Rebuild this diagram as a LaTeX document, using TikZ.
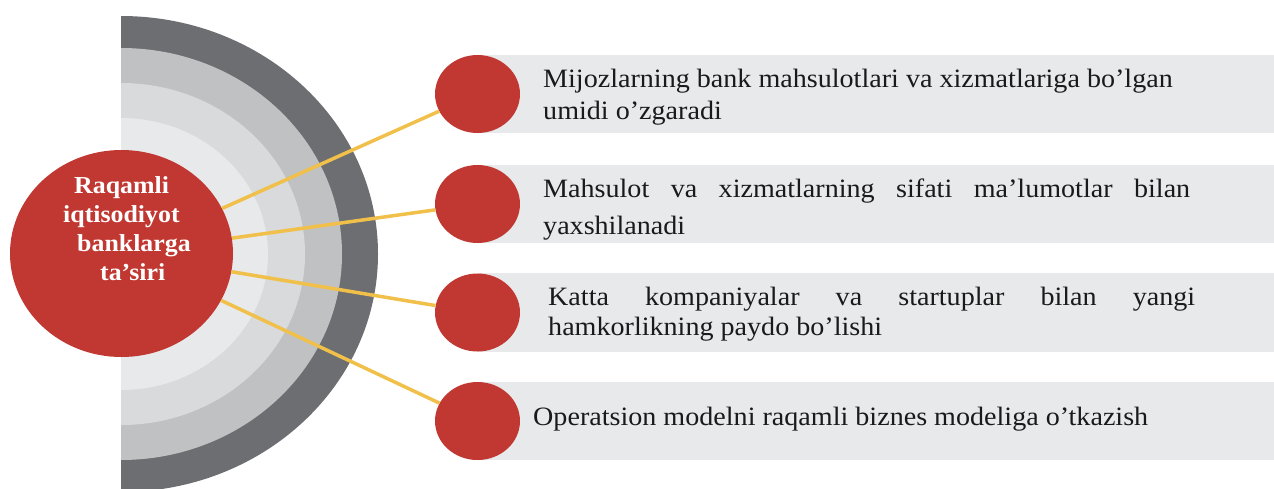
\documentclass[tikz,border=0pt]{standalone}
\usepackage{fontspec}
\setmainfont{Liberation Serif}[FakeStretch=1.06]
\usetikzlibrary{shapes.geometric}

\definecolor{ringA}{HTML}{6D6E71}
\definecolor{ringB}{HTML}{C0C1C3}
\definecolor{ringC}{HTML}{D9DADB}
\definecolor{ringD}{HTML}{E8E9EA}
\definecolor{barfill}{HTML}{E8E9EB}
\definecolor{dotred}{HTML}{C13832}
\definecolor{linkyellow}{HTML}{F0C04A}
\definecolor{ink}{HTML}{1A1A1A}

\begin{document}
\begin{tikzpicture}[x=1pt,y=-1pt,
  hub/.style={ellipse, fill=dotred, inner sep=0pt,
    minimum width=223pt, minimum height=207pt},
  dot/.style={ellipse, fill=dotred, inner sep=0pt,
    minimum width=85pt, minimum height=78pt},
  hubtext/.style={anchor=base west, inner sep=0pt, text=white,
    font=\fontsize{24.4}{28}\selectfont\bfseries},
  itemtext/.style={anchor=base west, inner sep=0pt, text=ink,
    font=\fontsize{26.5}{31}\selectfont},
  link/.style={draw=linkyellow, line width=3.5pt},
  bar/.style={fill=barfill}]

\useasboundingbox (0,0) rectangle (1274,488);

% concentric half rings
\begin{scope}
  \clip (121,0) rectangle (1274,488);
  \fill[ringA] (121,254) ellipse [x radius=257, y radius=238];
  \fill[ringB] (121,254) ellipse [x radius=221, y radius=206];
  \fill[ringC] (121,254) ellipse [x radius=184, y radius=171];
  \fill[ringD] (121,254) ellipse [x radius=147, y radius=136];
\end{scope}

% grey bands behind the items
\fill[bar] (477,55)  rectangle (1274,133);
\fill[bar] (477,165) rectangle (1274,243);
\fill[bar] (477,273) rectangle (1274,352);
\fill[bar] (477,382) rectangle (1274,460);

% central hub
\node[hub] (hub) at (121.5,253.5) {};
\node[hubtext] (h1) at (74,193) {Raqamli};
\node[hubtext] (h2) at (63,222) {iqtisodiyot};
\node[hubtext] (h3) at (77,251) {banklarga};
\node[hubtext] (h4) at (100,280) {ta’siri};

% item markers
\node[dot] (c1) at (477.5,94)  {};
\node[dot] (c2) at (477.5,204) {};
\node[dot] (c3) at (477.5,312.5) {};
\node[dot] (c4) at (477.5,421) {};

% connectors
\draw[link] (hub) -- (c1);
\draw[link] (hub) -- (c2);
\draw[link] (hub) -- (c3);
\draw[link] (hub) -- (c4);

% item texts
\node[itemtext] (t1a) at (543,87) {Mijozlarning bank mahsulotlari va xizmatlariga bo’lgan};
\node[itemtext] (t1b) at (543,119) {umidi o’zgaradi};
\node[itemtext] (t2a) at (543,197.5) {\makebox[647pt][s]{Mahsulot va xizmatlarning sifati ma’lumotlar bilan}};
\node[itemtext] (t2b) at (543,234) {yaxshilanadi};
\node[itemtext] (t3a) at (548,305) {\makebox[647pt][s]{Katta kompaniyalar va startuplar bilan yangi}};
\node[itemtext] (t3b) at (548,335) {hamkorlikning paydo bo’lishi};
\node[itemtext] (t4a) at (533,425.5) {Operatsion modelni raqamli biznes modeliga o’tkazish};

\end{tikzpicture}
\end{document}
